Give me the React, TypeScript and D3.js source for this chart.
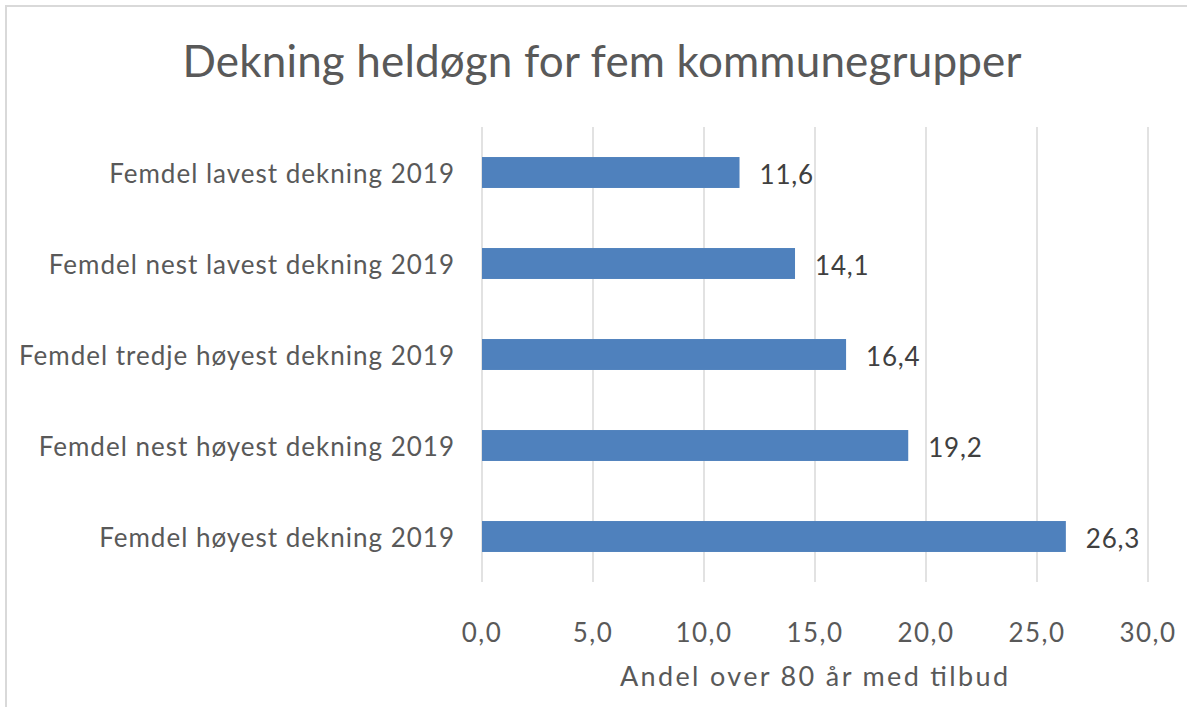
import * as d3 from "d3";

const categories = [
  "Femdel lavest dekning 2019",
  "Femdel nest lavest dekning 2019",
  "Femdel tredje høyest dekning 2019",
  "Femdel nest høyest dekning 2019",
  "Femdel høyest dekning 2019",
];
const values = [11.6, 14.1, 16.4, 19.2, 26.3];
const xTicks = [0, 5, 10, 15, 20, 25, 30];
const title = "Dekning heldøgn for fem kommunegrupper";
const xTitle = "Andel over 80 år med tilbud";

const W = 1187;
const H = 707;
const font = "Lato, 'Open Sans', sans-serif";

export default function App() {
  const x = d3.scaleLinear().domain([0, 30]).range([482, 1148]);
  const y = d3.scaleBand<string>().domain(categories).range([127, 582]).paddingInner(0.66).paddingOuter(0.33);
  const fmt = (v: number) => d3.format(".1f")(v).replace(".", ",");

  return (
    <svg width={W} height={H} style={{ position: "absolute", left: 0, top: 0, background: "#fff" }} fontFamily={font}>
      <rect x={6} y={6} width={W + 10} height={H + 10} fill="#fff" stroke="#D9D9D9" strokeWidth={2} />
      <text x={602} y={60} textAnchor="middle" dominantBaseline="central" fontSize={44} fill="#595959"
        textLength={839} lengthAdjust="spacing">
        {title}
      </text>
      {xTicks.map((t) => (
        <line key={t} x1={x(t)} x2={x(t)} y1={127} y2={582} stroke="#D9D9D9" strokeWidth={1.5} />
      ))}
      {categories.map((c, i) => (
        <g key={c}>
          <rect x={x(0)} y={y(c)} width={x(values[i]) - x(0)} height={y.bandwidth()} fill="#4F81BD" />
          <text x={455} y={y(c)! + y.bandwidth() / 2} textAnchor="end" dominantBaseline="central" fontSize={26}
            letterSpacing={1} fill="#595959">
            {c}
          </text>
          <text x={x(values[i]) + 20} y={y(c)! + y.bandwidth() / 2 + 1} dominantBaseline="central" fontSize={26}
            letterSpacing={0.8} fill="#404040">
            {fmt(values[i])}
          </text>
        </g>
      ))}
      {xTicks.map((t) => (
        <text key={t} x={x(t)} y={632} textAnchor="middle" dominantBaseline="central" fontSize={26}
          letterSpacing={1.5} fill="#595959">
          {fmt(t)}
        </text>
      ))}
      <text x={814} y={675} textAnchor="middle" dominantBaseline="central" fontSize={27} fill="#595959"
        textLength={388} lengthAdjust="spacing">
        {xTitle}
      </text>
    </svg>
  );
}
